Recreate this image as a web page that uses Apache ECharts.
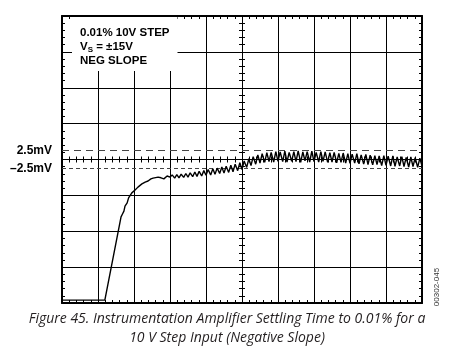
<!DOCTYPE html>
<html>
<head>
<meta charset="utf-8">
<script src="https://cdn.jsdelivr.net/npm/echarts@6.0.0/dist/echarts.min.js"></script>
<style>
  html, body { margin: 0; padding: 0; background: #fff; }
  #chart { width: 450px; height: 352px; }
</style>
</head>
<body>
<div id="chart"></div>
<script>
// time in divisions (0..10), output error in mV (10 mV/div, -40..40)
const flatPart = [[0, -39.2], [1.19, -39.2]];
const slewPart = [
  [1.64, -16.0], [1.68, -15.2], [1.72, -14.4], [1.75, -13.0], [1.78, -13.5],
  [1.81, -12.1], [1.85, -10.7], [1.94, -9.3], [2.03, -8.5], [2.11, -7.7],
  [2.22, -6.8], [2.31, -6.3], [2.39, -6.0], [2.47, -5.4], [2.53, -5.2],
  [2.58, -5.6], [2.67, -4.9], [2.75, -5.1], [2.83, -5.4], [2.92, -4.6]
];
const settlePart = [
  [3.00, -4.9], [3.06, -4.3], [3.13, -5.2], [3.19, -4.2], [3.25, -5.1], [3.31, -4.1],
  [3.38, -5.0], [3.44, -3.9], [3.50, -4.9], [3.56, -3.7], [3.63, -4.8], [3.69, -3.5],
  [3.75, -4.7], [3.81, -3.3], [3.88, -4.6], [3.94, -3.1], [4.00, -4.4], [4.06, -2.8],
  [4.13, -4.3], [4.19, -2.6], [4.25, -4.1], [4.31, -2.4], [4.38, -3.9], [4.44, -2.1],
  [4.50, -3.8], [4.56, -1.9], [4.63, -3.6], [4.69, -1.6], [4.75, -3.4], [4.81, -1.3],
  [4.88, -3.1], [4.94, -0.9], [5.00, -2.8], [5.06, -0.4], [5.13, -2.2], [5.19, 0.2],
  [5.25, -1.7], [5.31, 0.8], [5.38, -1.3], [5.44, 1.3], [5.50, -1.0], [5.56, 1.6],
  [5.63, -0.8], [5.69, 1.9], [5.75, -0.6], [5.81, 2.0], [5.88, -0.7], [5.94, 2.2],
  [6.00, -0.5], [6.06, 2.1], [6.13, -0.6], [6.19, 2.3], [6.25, -0.7], [6.31, 2.0],
  [6.38, -0.5], [6.44, 2.2], [6.50, -0.6], [6.56, 2.4], [6.63, -0.8], [6.69, 2.1],
  [6.75, -0.4], [6.81, 2.2], [6.88, -0.7], [6.94, 2.3], [7.00, -0.6], [7.06, 2.0],
  [7.13, -0.7], [7.19, 2.2], [7.25, -0.5], [7.31, 2.1], [7.38, -0.8], [7.44, 1.9],
  [7.50, -0.7], [7.56, 2.0], [7.63, -0.9], [7.69, 1.7], [7.75, -0.8], [7.81, 1.8],
  [7.88, -1.0], [7.94, 1.6], [8.00, -1.1], [8.06, 1.5], [8.13, -1.0], [8.19, 1.6],
  [8.25, -1.2], [8.31, 1.3], [8.38, -1.3], [8.44, 1.4], [8.50, -1.4], [8.56, 1.2],
  [8.63, -1.5], [8.69, 1.1], [8.75, -1.4], [8.81, 1.0], [8.88, -1.7], [8.94, 1.1],
  [9.00, -1.6], [9.06, 0.9], [9.13, -1.8], [9.19, 1.0], [9.25, -1.9], [9.31, 0.7],
  [9.38, -1.8], [9.44, 0.8], [9.50, -2.0], [9.56, 0.6], [9.63, -2.1], [9.69, 0.7],
  [9.75, -2.0], [9.81, 0.5], [9.88, -2.2], [9.94, 0.4], [10.00, -1.8]
];
const limitLevels = [2.5, -2.5];
const limitLabels = ['2.5mV', '\u20132.5mV'];

const chart = echarts.init(document.getElementById('chart'));

const gridBox = { left: 62, top: 16, width: 360, height: 287 };
const black = '#000';
const labelFont = 'Liberation Sans, Arial, sans-serif';

// frame axis with inward minor ticks
function edgeAxis(pos, isX, withSplit) {
  return {
    type: 'value',
    gridIndex: 0,
    position: pos,
    min: isX ? 0 : -40,
    max: isX ? 10 : 40,
    interval: isX ? 1 : 10,
    axisLine: { show: true, onZero: false, lineStyle: { color: black, width: 2 } },
    axisTick: { show: true, inside: true, length: 3, lineStyle: { color: black } },
    minorTick: { show: true, splitNumber: 5, length: 3, lineStyle: { color: black } },
    axisLabel: { show: false },
    splitLine: { show: withSplit, lineStyle: { color: black, width: 1 } }
  };
}

// centre cross axes (ticks on both sides through two grids)
function centreAxis(gi, isX, inside) {
  return {
    type: 'value',
    gridIndex: gi,
    min: isX ? -5 : -40,
    max: isX ? 5 : 40,
    interval: isX ? 1 : 10,
    axisLine: { show: true, onZero: true, lineStyle: { color: black, width: 1 } },
    axisTick: { show: true, inside: inside, length: 3, lineStyle: { color: black } },
    minorTick: { show: true, splitNumber: 5, length: 3, lineStyle: { color: black } },
    axisLabel: { show: false },
    splitLine: { show: false }
  };
}

const option = {
  animation: false,
  backgroundColor: '#fff',
  grid: [
    Object.assign({}, gridBox),
    Object.assign({}, gridBox),
    Object.assign({}, gridBox)
  ],
  title: [
    {
      left: 72,
      top: 17,
      padding: [9, 8, 3, 8],
      backgroundColor: '#fff',
      z: 10,
      text: '0.01% 10V STEP\nV{sub|S} = \u00b115V\nNEG SLOPE',
      textStyle: {
        fontFamily: labelFont,
        fontSize: 11.5,
        fontWeight: 'bold',
        color: black,
        lineHeight: 14,
        rich: {
          sub: {
            fontFamily: labelFont,
            fontSize: 8,
            fontWeight: 'bold',
            color: black,
            verticalAlign: 'bottom',
            lineHeight: 10,
            padding: [5, 0, 0, 0]
          }
        }
      }
    }
  ],
  xAxis: [
    edgeAxis('bottom', true, true),
    edgeAxis('top', true, false),
    centreAxis(1, true, true),
    centreAxis(2, true, false)
  ],
  yAxis: [
    edgeAxis('left', false, true),
    edgeAxis('right', false, false),
    centreAxis(1, false, true),
    centreAxis(2, false, false)
  ],
  graphic: [
    {
      type: 'text',
      x: 437,
      y: 287,
      rotation: Math.PI / 2,
      style: {
        text: '00302-045',
        fontFamily: labelFont,
        fontSize: 8,
        fill: '#333',
        align: 'center',
        verticalAlign: 'middle'
      }
    },
    {
      type: 'text',
      x: 227,
      y: 310,
      style: {
        text: 'Figure 45. Instrumentation Amplifier Settling Time to 0.01% for a\n10 V Step Input (Negative Slope)',
        fontFamily: 'Open Sans, sans-serif',
        fontStyle: 'italic',
        fontSize: 14,
        lineHeight: 19,
        fill: '#231f20',
        align: 'center',
        verticalAlign: 'top'
      }
    }
  ],
  series: [
    {
      type: 'line',
      xAxisIndex: 0,
      yAxisIndex: 0,
      data: flatPart.concat(slewPart, settlePart),
      showSymbol: false,
      symbol: 'none',
      lineStyle: { color: black, width: 1.4 },
      z: 5,
      markLine: {
        silent: true,
        symbol: 'none',
        animation: false,
        data: limitLevels.map((v, i) => ({
          yAxis: v,
          lineStyle: { color: '#444', width: 1, type: i === 0 ? [7, 5] : [4, 3] },
          label: {
            show: true,
            position: 'start',
            distance: 10,
            formatter: limitLabels[i],
            fontFamily: labelFont,
            fontSize: 12,
            fontWeight: 'bold',
            color: black
          }
        }))
      }
    }
  ]
};

chart.setOption(option);
</script>
</body>
</html>
